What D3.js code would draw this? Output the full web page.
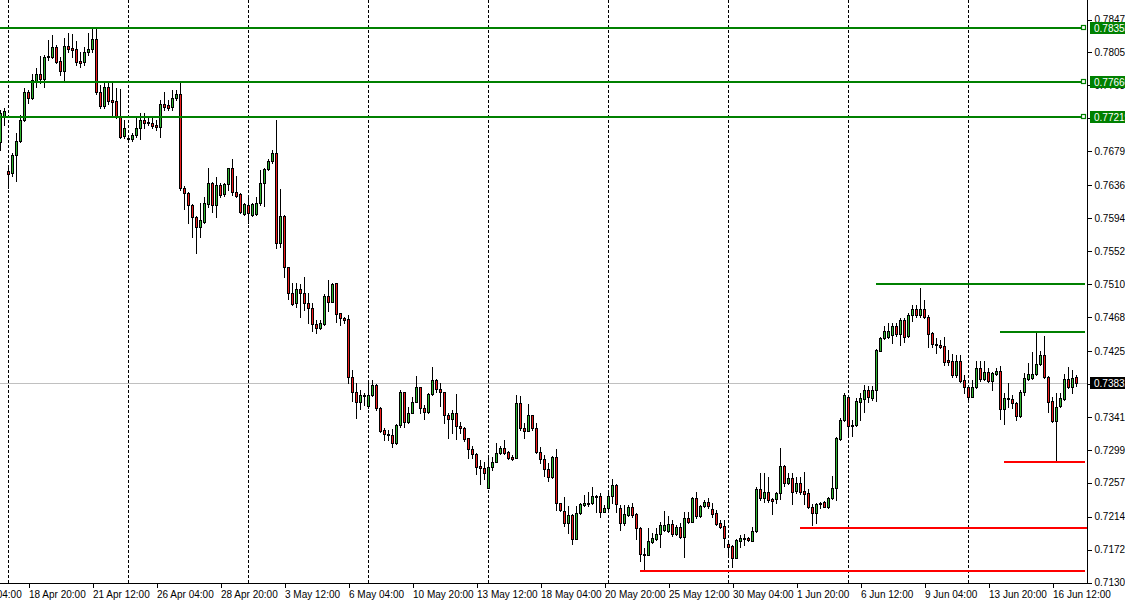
<!DOCTYPE html>
<html>
<head>
<meta charset="utf-8">
<script src="https://cdn.jsdelivr.net/npm/d3@7/dist/d3.min.js"></script>
<style>
  html, body { margin: 0; padding: 0; background: #ffffff; }
  svg { display: block; }
  text { font-family: "Liberation Sans", Arial, sans-serif; font-size: 10px; }
</style>
</head>
<body>
<svg id="chart" width="1125" height="604"></svg>
<script>
// ---------------- DATA (AUDUSD H4, bar index 0 = Mon 18 Apr 00:00) ----------------
const firstBar = -2;

const opens = [
0.76904,0.77222,0.76534,0.76509,0.76738,0.76916,0.77184,0.77541,0.77464,0.77680,
0.77770,0.77706,0.77986,0.77986,0.78114,0.77935,0.77808,0.78127,0.78101,0.78088,
0.77935,0.77923,0.78050,0.78088,0.78215,0.77541,0.77363,0.77604,0.77439,0.77426,
0.77222,0.76980,0.76954,0.76941,0.76992,0.77082,0.77184,0.77146,0.77146,0.77120,
0.77095,0.77388,0.77375,0.77350,0.77464,0.77515,0.76318,0.76254,0.76101,0.75949,
0.75821,0.75885,0.76114,0.76382,0.76101,0.76356,0.76241,0.76369,0.76572,0.76267,
0.76241,0.75987,0.76101,0.75974,0.75987,0.76127,0.76382,0.76559,0.76661,0.76764,
0.75618,0.75962,0.75312,0.74981,0.74854,0.75031,0.74981,0.74854,0.74790,0.74586,
0.74535,0.74586,0.74943,0.74867,0.75108,0.74726,0.74662,0.74649,0.73911,0.73720,
0.73593,0.73681,0.73542,0.73681,0.73809,0.73516,0.73236,0.73185,0.73172,0.73071,
0.73299,0.73720,0.73338,0.73453,0.73593,0.73784,0.73516,0.73466,0.73694,0.73873,
0.73758,0.73720,0.73427,0.73376,0.73453,0.73287,0.73261,0.73134,0.72994,0.72930,
0.72778,0.72752,0.72497,0.72765,0.72829,0.72943,0.73007,0.72956,0.72892,0.72879,
0.73580,0.73261,0.73223,0.73427,0.73261,0.72956,0.72866,0.72739,0.72638,0.72892,
0.72307,0.72204,0.72052,0.72153,0.71847,0.72179,0.72281,0.72294,0.72307,0.72396,
0.72396,0.72192,0.72243,0.72396,0.72535,0.72243,0.72052,0.72153,0.72256,0.72166,
0.71988,0.71657,0.71644,0.71810,0.71847,0.71911,0.71962,0.71949,0.72039,0.71911,
0.72001,0.71873,0.72115,0.72065,0.72370,0.72141,0.72269,0.72320,0.72230,0.72179,
0.72052,0.72014,0.71784,0.71759,0.71606,0.71822,0.71847,0.71860,0.71822,0.71949,
0.72484,0.72370,0.72447,0.72357,0.72357,0.72434,0.72778,0.72561,0.72625,0.72459,
0.72561,0.72459,0.72434,0.72256,0.72179,0.72294,0.72320,0.72256,0.72370,0.72497,
0.73121,0.73363,0.73656,0.73299,0.73299,0.73593,0.73630,0.73745,0.73643,0.73745,
0.74242,0.74407,0.74420,0.74445,0.74561,0.74458,0.74637,0.74433,0.74700,0.74777,
0.74700,0.74777,0.74675,0.74471,0.74331,0.74318,0.74306,0.74127,0.74114,0.73936,
0.74114,0.73873,0.73784,0.73656,0.73784,0.74025,0.73885,0.73975,0.73860,0.73949,
0.73987,0.73503,0.73643,0.73630,0.73580,0.73415,0.73720,0.73885,0.73898,0.73949,
0.74076,0.74191,0.73911,0.73605,0.73350,0.73542,0.73630,0.73885,0.73784,0.73911
];

const highs = [
0.77311,0.77337,0.76572,0.76764,0.77018,0.77247,0.77591,0.77566,0.77770,0.77846,
0.77999,0.78011,0.78203,0.78266,0.78139,0.77986,0.78228,0.78292,0.78279,0.78190,
0.78050,0.78114,0.78292,0.78355,0.78355,0.77629,0.77680,0.77680,0.77668,0.77591,
0.77578,0.77184,0.76967,0.77018,0.77222,0.77273,0.77273,0.77235,0.77209,0.77184,
0.77439,0.77541,0.77439,0.77566,0.77566,0.77655,0.76344,0.76267,0.76114,0.75962,
0.76127,0.76203,0.76572,0.76395,0.76458,0.76382,0.76382,0.76572,0.76687,0.76471,
0.76254,0.76127,0.76203,0.76127,0.76203,0.76547,0.76572,0.76687,0.76802,0.77184,
0.76305,0.75974,0.75312,0.75108,0.75108,0.75095,0.75185,0.74981,0.74854,0.74637,
0.74637,0.74968,0.75146,0.75108,0.75108,0.74726,0.74675,0.74700,0.74000,0.73835,
0.73745,0.73707,0.73835,0.73873,0.73822,0.73529,0.73261,0.73236,0.73248,0.73312,
0.73745,0.73720,0.73529,0.73656,0.73924,0.73784,0.73554,0.73707,0.74038,0.73885,
0.73835,0.73720,0.73453,0.73491,0.73694,0.73338,0.73274,0.73134,0.73033,0.72943,
0.72854,0.72829,0.72892,0.72892,0.73071,0.73033,0.73109,0.72968,0.72917,0.73681,
0.73669,0.73325,0.73567,0.73427,0.73325,0.73020,0.72917,0.72816,0.72905,0.72994,
0.72307,0.72383,0.72269,0.72166,0.72269,0.72307,0.72408,0.72447,0.72510,0.72408,
0.72434,0.72281,0.72447,0.72612,0.72548,0.72281,0.72281,0.72281,0.72307,0.72179,
0.72001,0.71733,0.71988,0.71924,0.71988,0.72065,0.72204,0.72141,0.72090,0.72026,
0.72052,0.72192,0.72192,0.72383,0.72447,0.72281,0.72345,0.72370,0.72307,0.72217,
0.72090,0.72090,0.71810,0.71771,0.71847,0.71898,0.71911,0.71873,0.72001,0.72510,
0.72689,0.72689,0.72638,0.72370,0.72447,0.73007,0.72790,0.72689,0.72689,0.72638,
0.72638,0.72702,0.72484,0.72294,0.72307,0.72320,0.72332,0.72383,0.72651,0.73147,
0.73389,0.73707,0.73681,0.73363,0.73643,0.73707,0.73809,0.73797,0.73797,0.74267,
0.74420,0.74561,0.74599,0.74599,0.74599,0.74662,0.74662,0.74726,0.74828,0.74828,
0.75044,0.74892,0.74700,0.74484,0.74407,0.74382,0.74420,0.74255,0.74204,0.74191,
0.74191,0.73936,0.73809,0.73873,0.74114,0.74114,0.74114,0.74025,0.73975,0.74025,
0.74051,0.73707,0.73835,0.73681,0.73593,0.73745,0.73962,0.74089,0.74230,0.74484,
0.74242,0.74433,0.73924,0.73656,0.73707,0.73707,0.73949,0.74038,0.74000,0.73936
];

const lows = [
0.76802,0.77120,0.76318,0.76471,0.76407,0.76904,0.77171,0.77401,0.77451,0.77604,
0.77655,0.77604,0.77948,0.77973,0.77910,0.77757,0.77668,0.78050,0.77986,0.77884,
0.77859,0.77884,0.78011,0.78050,0.77515,0.77337,0.77337,0.77388,0.77222,0.77209,
0.76954,0.76954,0.76916,0.76916,0.76967,0.76941,0.77082,0.77120,0.77082,0.77056,
0.76967,0.77311,0.77311,0.77311,0.77439,0.76292,0.76050,0.75872,0.75694,0.75490,
0.75694,0.75872,0.76076,0.76013,0.75949,0.76203,0.76216,0.76292,0.76228,0.76203,
0.76000,0.75974,0.75872,0.75962,0.75974,0.76101,0.76089,0.76547,0.76636,0.75554,
0.75567,0.75185,0.74904,0.74828,0.74803,0.74675,0.74764,0.74599,0.74496,0.74471,
0.74522,0.74573,0.74751,0.74867,0.74612,0.74573,0.74599,0.73835,0.73605,0.73389,
0.73503,0.73554,0.73516,0.73669,0.73491,0.73211,0.73109,0.73109,0.73020,0.73058,
0.73274,0.73274,0.73325,0.73453,0.73593,0.73453,0.73376,0.73453,0.73681,0.73720,
0.73542,0.73325,0.73134,0.73198,0.73121,0.73198,0.73096,0.72879,0.72879,0.72676,
0.72548,0.72612,0.72497,0.72727,0.72829,0.72930,0.72930,0.72866,0.72854,0.72879,
0.73236,0.73134,0.73223,0.73236,0.72943,0.72816,0.72651,0.72586,0.72625,0.72217,
0.72204,0.72014,0.71924,0.71784,0.71847,0.72166,0.72269,0.72269,0.72294,0.72192,
0.72128,0.72192,0.72230,0.72307,0.72192,0.71962,0.72026,0.72141,0.72128,0.71847,
0.71567,0.71465,0.71644,0.71797,0.71835,0.71746,0.71949,0.71937,0.71886,0.71898,
0.71860,0.71619,0.72052,0.72065,0.72115,0.72128,0.72256,0.72243,0.72128,0.72026,
0.71988,0.71746,0.71619,0.71491,0.71606,0.71746,0.71771,0.71822,0.71822,0.71937,
0.72345,0.72320,0.72320,0.72166,0.72307,0.72357,0.72523,0.72548,0.72294,0.72434,
0.72421,0.72294,0.72243,0.72026,0.72052,0.72243,0.72256,0.72243,0.72357,0.72345,
0.73109,0.73350,0.73172,0.73160,0.73287,0.73363,0.73466,0.73593,0.73618,0.73605,
0.74242,0.74394,0.74407,0.74344,0.74433,0.74318,0.74357,0.74420,0.74624,0.74675,
0.74675,0.74662,0.74293,0.74293,0.74217,0.74280,0.74063,0.74063,0.73911,0.73911,
0.73848,0.73707,0.73593,0.73656,0.73771,0.73860,0.73873,0.73848,0.73745,0.73936,
0.73376,0.73312,0.73529,0.73516,0.73363,0.73402,0.73681,0.73873,0.73885,0.73936,
0.74063,0.73898,0.73466,0.73338,0.72854,0.73529,0.73618,0.73771,0.73707,0.73797
];

const closes = [
0.77273,0.77298,0.76496,0.76738,0.76916,0.77184,0.77541,0.77464,0.77693,0.77770,
0.77706,0.77986,0.77999,0.78114,0.77923,0.77808,0.78127,0.78088,0.78075,0.77923,
0.77910,0.78050,0.78088,0.78215,0.77541,0.77363,0.77604,0.77426,0.77414,0.77222,
0.76967,0.77082,0.76941,0.76992,0.77082,0.77184,0.77146,0.77159,0.77108,0.77095,
0.77388,0.77350,0.77337,0.77464,0.77515,0.76318,0.76254,0.76101,0.75949,0.75821,
0.75910,0.76127,0.76382,0.76101,0.76356,0.76228,0.76369,0.76572,0.76267,0.76216,
0.76013,0.76114,0.76000,0.76114,0.76127,0.76382,0.76559,0.76661,0.76764,0.75618,
0.75962,0.75312,0.74981,0.74841,0.75031,0.74981,0.74854,0.74790,0.74586,0.74535,
0.74599,0.74943,0.74867,0.75095,0.74713,0.74662,0.74637,0.73911,0.73720,0.73593,
0.73681,0.73669,0.73681,0.73809,0.73516,0.73223,0.73185,0.73172,0.73071,0.73299,
0.73720,0.73338,0.73453,0.73593,0.73784,0.73516,0.73466,0.73694,0.73873,0.73758,
0.73720,0.73427,0.73376,0.73453,0.73287,0.73261,0.73121,0.72994,0.72930,0.72765,
0.72752,0.72689,0.72765,0.72829,0.72943,0.73007,0.72943,0.72879,0.72866,0.73580,
0.73261,0.73223,0.73427,0.73261,0.72956,0.72866,0.72739,0.72638,0.72892,0.72307,
0.72217,0.72052,0.72153,0.71847,0.72179,0.72294,0.72307,0.72307,0.72396,0.72383,
0.72192,0.72243,0.72396,0.72535,0.72294,0.72052,0.72166,0.72256,0.72153,0.71988,
0.71657,0.71644,0.71822,0.71860,0.71911,0.72026,0.72026,0.72039,0.71911,0.72001,
0.71873,0.72115,0.72065,0.72370,0.72141,0.72269,0.72320,0.72269,0.72166,0.72039,
0.72001,0.71860,0.71746,0.71606,0.71835,0.71860,0.71860,0.71835,0.71949,0.72484,
0.72370,0.72447,0.72345,0.72332,0.72434,0.72778,0.72561,0.72625,0.72447,0.72561,
0.72447,0.72421,0.72256,0.72179,0.72294,0.72307,0.72256,0.72370,0.72497,0.73134,
0.73363,0.73681,0.73287,0.73287,0.73605,0.73643,0.73745,0.73656,0.73745,0.74255,
0.74407,0.74496,0.74496,0.74561,0.74458,0.74637,0.74420,0.74700,0.74777,0.74700,
0.74777,0.74675,0.74458,0.74331,0.74318,0.74293,0.74102,0.74102,0.73936,0.74114,
0.73860,0.73784,0.73656,0.73784,0.74025,0.73885,0.73975,0.73860,0.73962,0.73987,
0.73503,0.73643,0.73630,0.73580,0.73415,0.73720,0.73898,0.73949,0.73949,0.74076,
0.74191,0.73911,0.73593,0.73350,0.73529,0.73643,0.73885,0.73784,0.73898,0.73832
];

// price axis tick values
const priceTicks = [0.78470,0.78050,0.77630,0.77210,0.76790,0.76360,0.75940,0.75520,0.75100,
                    0.74680,0.74250,0.73830,0.73410,0.72990,0.72570,0.72140,0.71720,0.71300];
const priceMin = 0.71300, priceMax = 0.78470;

// time axis ticks (bar index) and labels
const timeTickBars = [-11,5,21,37,53,69,85,101,117,133,149,165,181,197,213,229,245,261];
const timeTickLabels = ["14 Apr 04:00","18 Apr 20:00","21 Apr 12:00","26 Apr 04:00","28 Apr 20:00",
  "3 May 12:00","6 May 04:00","10 May 20:00","13 May 12:00","18 May 04:00","20 May 20:00",
  "25 May 12:00","30 May 04:00","1 Jun 20:00","6 Jun 12:00","9 Jun 04:00","13 Jun 20:00","16 Jun 12:00"];

// week separators (bar index of Monday 00:00)
const weekStartBars = [0,30,60,90,120,150,180,210,240];

// horizontal levels across the whole chart (with price labels)
const fullLevels = [0.78355, 0.77666, 0.77219];

// short resistance / support lines: price and starting bar
const resistancePrices = [0.75095, 0.74490];
const resistanceStart  = [217, 248];
const supportPrices    = [0.72828, 0.71992, 0.71444];
const supportStart     = [249, 198, 158];
const lineEndBar = 269.25;

const bidPrice = 0.73832;

// ---------------- DRAWING ----------------
const W = 1125, H = 604;
const plotRight = 1087, plotBottom = 583;
const svg = d3.select("#chart");

const bars = opens.map((o, k) => ({ i: firstBar + k, o, h: highs[k], l: lows[k], c: closes[k] }));

const x = d3.scaleLinear().domain([firstBar, firstBar + bars.length - 1]).range([0, 4 * (bars.length - 1)]);
const y = d3.scaleLinear().domain([priceMin, priceMax]).range([582, 19]);

const GREEN = "#008000";
const BULL = "#2fb52f";
const BEAR = "#ef1c1c";

// bid line (under candles)
const yb = Math.round(y(bidPrice)) + 0.5;
svg.append("line").attr("x1", 0).attr("x2", plotRight).attr("y1", yb).attr("y2", yb)
  .attr("stroke", "#c0c0c0").attr("stroke-width", 1);

// week separators
svg.append("g").selectAll("line").data(weekStartBars).join("line")
  .attr("x1", d => Math.round(x(d)) + 0.5).attr("x2", d => Math.round(x(d)) + 0.5)
  .attr("y1", 0).attr("y2", plotBottom)
  .attr("stroke", "#000").attr("stroke-width", 1).attr("stroke-dasharray", "3,2");

// candles
const gC = svg.append("g").attr("shape-rendering", "crispEdges");
const cand = gC.selectAll("g").data(bars).join("g");
cand.append("line")
  .attr("x1", d => Math.round(x(d.i)) + 0.5).attr("x2", d => Math.round(x(d.i)) + 0.5)
  .attr("y1", d => Math.round(y(d.h))).attr("y2", d => Math.round(y(d.l)) + 1)
  .attr("stroke", "#000").attr("stroke-width", 1);
cand.each(function(d) {
  const g = d3.select(this);
  const cx = Math.round(x(d.i));
  const yt = Math.round(y(Math.max(d.o, d.c)));
  const ybm = Math.round(y(Math.min(d.o, d.c)));
  if (ybm - yt < 1) {
    g.append("line").attr("x1", cx - 1).attr("x2", cx + 2)
      .attr("y1", yt + 0.5).attr("y2", yt + 0.5).attr("stroke", "#000");
  } else {
    g.append("rect").attr("x", cx - 0.5).attr("y", yt + 0.5)
      .attr("width", 2).attr("height", ybm - yt)
      .attr("fill", d.c >= d.o ? BULL : BEAR)
      .attr("stroke", "#000").attr("stroke-width", 1);
  }
});

// full-width green levels
const gL = svg.append("g").attr("shape-rendering", "crispEdges");
fullLevels.forEach(p => {
  const yy = Math.round(y(p));
  gL.append("line").attr("x1", 0).attr("x2", 1082).attr("y1", yy).attr("y2", yy)
    .attr("stroke", GREEN).attr("stroke-width", 2);
});

// short lines
resistancePrices.forEach((p, k) => {
  const yy = Math.round(y(p));
  gL.append("line").attr("x1", x(resistanceStart[k])).attr("x2", x(lineEndBar))
    .attr("y1", yy).attr("y2", yy).attr("stroke", GREEN).attr("stroke-width", 2);
});
supportPrices.forEach((p, k) => {
  const yy = Math.round(y(p));
  gL.append("line").attr("x1", x(supportStart[k])).attr("x2", x(lineEndBar) + (k === 1 ? 2 : 0))
    .attr("y1", yy).attr("y2", yy).attr("stroke", "#ff0000").attr("stroke-width", 2);
});

// frame lines
svg.append("line").attr("x1", plotRight + 0.5).attr("x2", plotRight + 0.5).attr("y1", 0).attr("y2", plotBottom + 1)
  .attr("stroke", "#000");
svg.append("line").attr("x1", 0).attr("x2", plotRight + 1).attr("y1", plotBottom + 0.5).attr("y2", plotBottom + 0.5)
  .attr("stroke", "#000");

// price axis
const yAxis = d3.axisRight(y).tickValues(priceTicks).tickSize(4).tickPadding(3)
  .tickFormat(d3.format(".5f"));
const gy = svg.append("g").attr("transform", `translate(${plotRight + 0.5},0.5)`)
  .attr("shape-rendering", "crispEdges").call(yAxis);
gy.select(".domain").remove();
gy.selectAll(".tick line").attr("stroke", "#000");
gy.selectAll(".tick text").attr("fill", "#000").style("font-size", "10px")
  .style("font-family", "'Liberation Sans', Arial, sans-serif");

// time axis
const xAxis = d3.axisBottom(x).tickValues(timeTickBars).tickSize(4).tickPadding(3)
  .tickFormat((d, k) => timeTickLabels[k]);
const gx = svg.append("g").attr("transform", `translate(0.5,${plotBottom + 0.5})`)
  .attr("shape-rendering", "crispEdges").call(xAxis);
gx.select(".domain").remove();
gx.selectAll(".tick line").attr("stroke", "#000");
gx.selectAll(".tick text").attr("fill", "#000").attr("text-anchor", "start").attr("x", 0)
  .style("font-size", "10px").style("font-family", "'Liberation Sans', Arial, sans-serif");

// level price labels
fullLevels.forEach(p => {
  const yy = Math.round(y(p));
  svg.append("rect").attr("x", 1081.5).attr("y", yy - 2.5).attr("width", 4).attr("height", 4)
    .attr("fill", "#fff").attr("stroke", GREEN).attr("stroke-width", 1.2);
  svg.append("rect").attr("x", 1090).attr("y", yy - 6).attr("width", 40).attr("height", 12).attr("fill", GREEN);
  svg.append("text").attr("x", 1094).attr("y", yy + 4).attr("fill", "#fff").text(d3.format(".5f")(p));
});

// bid label
svg.append("rect").attr("x", 1090).attr("y", Math.round(y(bidPrice)) - 6).attr("width", 40).attr("height", 12).attr("fill", "#000");
svg.append("text").attr("x", 1094).attr("y", Math.round(y(bidPrice)) + 4).attr("fill", "#fff").text(d3.format(".5f")(bidPrice));
</script>
</body>
</html>
